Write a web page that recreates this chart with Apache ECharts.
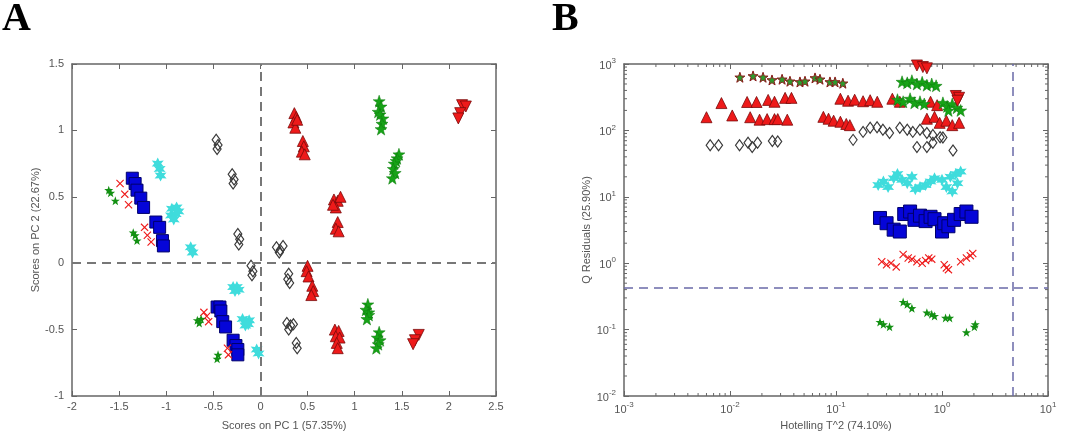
<!DOCTYPE html>
<html><head><meta charset="utf-8">
<script src="https://cdn.jsdelivr.net/npm/echarts@6/dist/echarts.min.js"></script>
<style>html,body{margin:0;padding:0;background:#fff}#c{width:1065px;height:443px}</style>
</head><body><div id="c"></div>
<script>
// ---------- Panel A : PCA scores [PC1, PC2] ----------
const scoreGreenSmall = [[-1.61,0.55],[-1.59,0.53],[-1.54,0.47],[-1.35,0.23],[-1.33,0.21],[-1.31,0.17],
  [-0.67,-0.43],[-0.63,-0.42],[-0.65,-0.45],[-0.45,-0.69],[-0.46,-0.72]];
const scoreGreen = [[1.26,1.22],[1.28,1.18],[1.25,1.14],[1.27,1.12],[1.30,1.09],[1.29,1.05],[1.28,1.01],
  [1.47,0.82],[1.45,0.79],[1.44,0.77],[1.42,0.75],[1.41,0.71],[1.43,0.68],[1.40,0.64],
  [1.14,-0.31],[1.12,-0.35],[1.15,-0.37],[1.15,-0.39],[1.13,-0.42],[1.26,-0.52],[1.24,-0.56],[1.27,-0.58],[1.25,-0.61],[1.23,-0.64]];
const scoreRedUp = [[0.36,1.13],[0.38,1.10],[0.35,1.06],[0.37,1.02],[0.39,1.08],
  [0.45,0.92],[0.46,0.88],[0.44,0.84],[0.47,0.82],
  [0.78,0.48],[0.82,0.47],[0.85,0.50],[0.80,0.42],[0.77,0.44],[0.82,0.31],[0.80,0.26],[0.83,0.24],
  [0.50,-0.02],[0.49,-0.06],[0.51,-0.10],[0.55,-0.17],[0.56,-0.21],[0.54,-0.24],
  [0.79,-0.50],[0.83,-0.51],[0.80,-0.55],[0.84,-0.56],[0.81,-0.60],[0.82,-0.64]];
const scoreRedDown = [[2.14,1.19],[2.18,1.18],[2.12,1.13],[2.10,1.09],[1.68,-0.54],[1.64,-0.58],[1.62,-0.61]];
const scoreBlack = [[-0.47,0.93],[-0.45,0.89],[-0.46,0.86],[-0.30,0.67],[-0.28,0.63],[-0.29,0.60],
  [-0.24,0.22],[-0.22,0.18],[-0.23,0.14],[-0.10,-0.02],[-0.08,-0.06],[-0.09,-0.09],
  [0.17,0.12],[0.21,0.10],[0.24,0.13],[0.20,0.08],[0.30,-0.08],[0.29,-0.12],[0.31,-0.15],
  [0.28,-0.45],[0.32,-0.47],[0.35,-0.46],[0.30,-0.50],[0.38,-0.60],[0.39,-0.64]];
const scoreBlue = [[-1.36,0.64],[-1.33,0.60],[-1.31,0.55],[-1.27,0.49],[-1.24,0.42],[-1.11,0.31],[-1.07,0.27],[-1.04,0.17],[-1.03,0.13],
  [-0.46,-0.33],[-0.43,-0.33],[-0.42,-0.36],[-0.40,-0.44],[-0.37,-0.48],[-0.29,-0.58],[-0.26,-0.62],[-0.24,-0.65],[-0.24,-0.69]];
const scoreCyan = [[-1.09,0.75],[-1.07,0.71],[-1.06,0.66],[-0.94,0.41],[-0.89,0.42],[-0.95,0.36],[-0.90,0.37],[-0.92,0.33],
  [-0.87,0.39],[-0.74,0.12],[-0.72,0.08],[-0.29,-0.18],[-0.25,-0.18],[-0.27,-0.21],[-0.23,-0.20],
  [-0.19,-0.42],[-0.15,-0.44],[-0.12,-0.43],[-0.16,-0.47],[-0.13,-0.46],[-0.04,-0.65],[-0.02,-0.68]];
const scoreRedX = [[-1.49,0.60],[-1.44,0.52],[-1.40,0.44],[-1.23,0.27],[-1.20,0.21],[-1.16,0.16],
  [-0.60,-0.37],[-0.55,-0.44],[-0.57,-0.40],[-0.35,-0.64],[-0.34,-0.69]];
const pc1Zero = 0, pc2Zero = 0;

// ---------- Panel B : [Hotelling T^2, Q residuals] ----------
const qStar = [[0.0124,631],[0.0165,661],[0.0205,631],[0.0249,575],[0.031,589],[0.0368,550],[0.0457,537],
  [0.051,550],[0.0634,617],[0.0706,589],[0.0877,537],[0.098,537],[0.116,513]];
const qGreen = [[0.42,540],[0.47,520],[0.52,560],[0.58,500],[0.65,530],[0.72,480],[0.80,500],[0.88,470],
  [0.38,290],[0.43,270],[0.50,300],[0.55,260],[0.62,270],[0.68,250],
  [1.02,260],[1.12,230],[1.25,250],[1.38,220],[1.50,200],[1.15,200]];
const qRedDown = [[0.58,950],[0.66,900],[0.72,860],[1.35,330],[1.45,310],[1.40,280]];
const qRedUp = [[0.0060,158],[0.0105,168],[0.0083,258],
  [0.0145,268],[0.0178,268],[0.0229,288],[0.0263,270],[0.0331,309],[0.038,309],
  [0.0155,158],[0.019,145],[0.0224,148],[0.0263,148],[0.0282,148],[0.0347,145],
  [0.076,160],[0.085,150],[0.095,140],[0.11,135],[0.125,125],[0.135,120],
  [0.11,300],[0.13,280],[0.15,290],[0.18,275],[0.21,285],[0.245,270],
  [0.34,300],[0.40,270],[0.78,270],[0.90,240],
  [0.72,150],[0.85,160],[0.95,130],[1.10,140],[1.25,120],[1.45,130]];
const qBlack = [[0.0065,60],[0.0078,60],[0.0123,60],[0.0148,65],[0.0162,56],[0.0182,65],[0.0251,69],[0.0282,68],
  [0.145,72],[0.18,95],[0.21,110],[0.244,112],[0.277,102],[0.32,91],[0.40,110],[0.47,102],[0.53,95],
  [0.62,102],[0.72,91],[0.82,85],[0.96,79],[0.58,56],[0.72,56],[0.82,65],[1.02,78],[1.27,50]];
const qCyan = [[0.25,15],[0.28,17],[0.31,14],[0.35,19],[0.38,22],[0.42,18],[0.47,16],[0.52,20],[0.56,13],[0.62,14],
  [0.70,15],[0.78,17],[0.85,19],[1.0,18],[1.1,14],[1.2,20],[1.35,22],[1.5,24],[1.4,16],[1.25,12]];
const qBlue = [[0.26,4.8],[0.30,4.0],[0.35,3.2],[0.40,3.0],[0.44,5.5],[0.50,6.0],[0.55,4.5],[0.62,5.2],[0.70,4.3],
  [0.78,5.0],[0.85,4.6],[1.0,3.0],[1.05,4.0],[1.15,3.6],[1.3,4.5],[1.5,5.5],[1.7,6.0],[1.9,5.0]];
const qRedX = [[0.27,1.05],[0.30,0.95],[0.33,1.0],[0.37,0.88],[0.43,1.35],[0.48,1.2],[0.52,1.15],[0.58,1.05],
  [0.65,1.0],[0.70,1.1],[0.75,1.2],[0.80,1.15],[1.05,0.95],[1.1,0.85],[1.15,0.8],[1.5,1.05],[1.7,1.2],[1.85,1.3],[1.95,1.4]];
const qGreenSmall = [[0.26,0.13],[0.28,0.12],[0.32,0.11],[0.43,0.26],[0.47,0.24],[0.52,0.21],[0.72,0.18],[0.80,0.17],
  [0.85,0.16],[1.08,0.15],[1.18,0.15],[1.70,0.091],[2.02,0.11],[2.06,0.12]];
const t2Limit = 4.6, qLimit = 0.42;
const logMultipliers = [2,3,4,5,6,7,8,9];

// ---------- styling ----------
const FONT = '"Liberation Sans", Arial, sans-serif';
const TXT = '#555';
const STAR = 'path://M0,-10 L2.4,-3.2 9.5,-3.1 3.8,1.2 5.9,8.1 0,4 -5.9,8.1 -3.8,1.2 -9.5,-3.1 -2.4,-3.2Z';
const STAR6 = 'path://M0,-10 L2.5,-4.3 8.7,-5 5,0 8.7,5 2.5,4.3 0,10 -2.5,4.3 -8.7,5 -5,0 -8.7,-5 -2.5,-4.3Z';
const XMARK = 'path://M1,0 L5,4 L9,0 L10,1 L6,5 L10,9 L9,10 L5,6 L1,10 L0,9 L4,5 L0,1Z';
const DOWN = 'path://M0,0 L10,0 L5,9Z';

function sc(data, gi, symbol, size, color, border, bw, extra) {
  return Object.assign({
    type: 'scatter', data, xAxisIndex: gi * 2, yAxisIndex: gi * 2,
    symbol, symbolSize: size, silent: true, animation: false,
    itemStyle: { color, borderColor: border || color, borderWidth: bw || 0, opacity: 1 }
  }, extra || {});
}

function boxAxes(gi, type, min, max, interval, isX, withLabels, fmt) {
  const base = {
    type, gridIndex: gi, min, max, splitLine: { show: false },
    axisLine: { show: true, onZero: false, lineStyle: { color: '#666', width: 1.5 } },
    axisTick: { show: true, inside: true, length: 5, lineStyle: { color: '#666', width: 1 } },
    minorTick: { show: false }
  };
  if (type === 'value') base.interval = interval;
  if (type === 'log') base.logBase = 10;
  const main = Object.assign({}, base, {
    position: isX ? 'bottom' : 'left',
    axisLabel: Object.assign({ show: withLabels, color: TXT, fontSize: 11, fontFamily: FONT, margin: isX ? 5 : 8 }, fmt || {})
  });
  const opp = Object.assign({}, base, { position: isX ? 'top' : 'right', axisLabel: { show: false } });
  return [main, opp];
}

const logFmt = {
  formatter: v => '{b|10}{s|' + Math.round(Math.log10(v)) + '}',
  rich: {
    b: { fontSize: 11, color: TXT, fontFamily: FONT, lineHeight: 14, verticalAlign: 'bottom' },
    s: { fontSize: 8, color: TXT, fontFamily: FONT, lineHeight: 8, verticalAlign: 'top' }
  }
};

const xA = boxAxes(0, 'value', -2, 2.5, 0.5, true, true);
xA[0].name = 'Scores on PC 1 (57.35%)';
const yA = boxAxes(0, 'value', -1, 1.5, 0.5, false, true);
yA[0].name = 'Scores on PC 2 (22.67%)';
const xB = boxAxes(1, 'log', 0.001, 10, null, true, true, logFmt);
xB[0].name = 'Hotelling T^2 (74.10%)';
const yB = boxAxes(1, 'log', 0.01, 1000, null, false, true, logFmt);
yB[0].name = 'Q Residuals (25.90%)';
[xA[0], xB[0]].forEach(a => Object.assign(a, { nameLocation: 'middle', nameGap: 24,
  nameTextStyle: { color: TXT, fontSize: 11, fontFamily: FONT } }));
[yA[0], yB[0]].forEach(a => Object.assign(a, { nameLocation: 'middle', nameGap: 30, nameRotate: 90,
  nameTextStyle: { color: TXT, fontSize: 11, fontFamily: FONT } }));

// minor log ticks (decoration on log axes)
const minorX = [], minorY = [];
[-3, -2, -1, 0].forEach(k => logMultipliers.forEach(m => minorX.push([m * Math.pow(10, k), 1])));
[-2, -1, 0, 1, 2].forEach(k => logMultipliers.forEach(m => minorY.push([1, m * Math.pow(10, k)])));
function minorTicks(data, horizontal) {
  return {
    type: 'custom', xAxisIndex: 2, yAxisIndex: 2, data, silent: true, animation: false, clip: false,
    renderItem(params, api) {
      const cs = params.coordSys;
      const p = api.coord([api.value(0), api.value(1)]);
      const st = { stroke: '#666', lineWidth: 1 };
      if (horizontal) {
        return { type: 'group', children: [
          { type: 'line', shape: { x1: p[0], y1: cs.y + cs.height, x2: p[0], y2: cs.y + cs.height - 3 }, style: st },
          { type: 'line', shape: { x1: p[0], y1: cs.y, x2: p[0], y2: cs.y + 3 }, style: st }] };
      }
      return { type: 'group', children: [
        { type: 'line', shape: { x1: cs.x, y1: p[1], x2: cs.x + 3, y2: p[1] }, style: st },
        { type: 'line', shape: { x1: cs.x + cs.width, y1: p[1], x2: cs.x + cs.width - 3, y2: p[1] }, style: st }] };
    }
  };
}

const cyanC = '#3fdcdc', greenC = '#17a317', dgreenC = '#139013', redC = '#ee1a1a', dred = '#7a0a0a', blueC = '#0505d8';

const chart = echarts.init(document.getElementById('c'), null, { renderer: 'canvas' });
chart.setOption({
  backgroundColor: '#fff',
  animation: false,
  grid: [
    { left: 72, top: 64, width: 424, height: 332 },
    { left: 624, top: 64, width: 424, height: 332 }
  ],
  xAxis: [xA[0], xA[1], xB[0], xB[1]],
  yAxis: [yA[0], yA[1], yB[0], yB[1]],
  graphic: [
    { type: 'text', left: 2, top: 0, style: { text: 'A', font: 'bold 40px "Liberation Serif", "Times New Roman", serif', fill: '#000' } },
    { type: 'text', left: 552, top: 0, style: { text: 'B', font: 'bold 40px "Liberation Serif", "Times New Roman", serif', fill: '#000' } }
  ],
  series: [
    sc(scoreBlack, 0, 'diamond', [8, 11], 'rgba(255,255,255,0)', '#3a3a3a', 1.2, {
      markLine: { silent: true, symbol: 'none', animation: false, label: { show: false },
        lineStyle: { color: '#777', width: 2, type: [9, 6] },
        data: [{ xAxis: pc1Zero }, { yAxis: pc2Zero }] } }),
    sc(scoreCyan, 0, STAR6, 12, cyanC, cyanC, 0),
    sc(scoreBlue, 0, 'rect', 12, blueC, '#00006a', 1),
    sc(scoreRedX, 0, XMARK, 8, redC, redC, 0),
    sc(scoreGreenSmall, 0, STAR, 9, dgreenC, dgreenC, 0),
    sc(scoreGreen, 0, STAR, 12, greenC, '#0d7a0d', 0.5),
    sc(scoreRedUp, 0, 'triangle', 11, redC, dred, 0.8),
    sc(scoreRedDown, 0, DOWN, 11, redC, dred, 0.8),

    sc(qBlack, 1, 'diamond', [8, 11], 'rgba(255,255,255,0)', '#3a3a3a', 1.2, {
      markLine: { silent: true, symbol: 'none', animation: false, label: { show: false },
        lineStyle: { color: '#6a6aa8', width: 1.5, type: [9, 6] },
        data: [{ xAxis: t2Limit }, { yAxis: qLimit }] } }),
    sc(qCyan, 1, STAR6, 12, cyanC, cyanC, 0),
    sc(qBlue, 1, 'rect', 13, blueC, '#00006a', 1),
    sc(qRedX, 1, XMARK, 8, redC, redC, 0),
    sc(qGreenSmall, 1, STAR, 9, dgreenC, dgreenC, 0),
    sc(qRedUp, 1, 'triangle', 11, redC, dred, 0.8),
    sc(qGreen, 1, STAR, 12, greenC, '#0d7a0d', 0.5),
    sc(qRedDown, 1, DOWN, 11, redC, dred, 0.8),
    sc(qStar, 1, STAR, 10, '#2e9a2e', '#8b1a1a', 1),
    minorTicks(minorX, true),
    minorTicks(minorY, false)
  ]
});
</script>
</body></html>
